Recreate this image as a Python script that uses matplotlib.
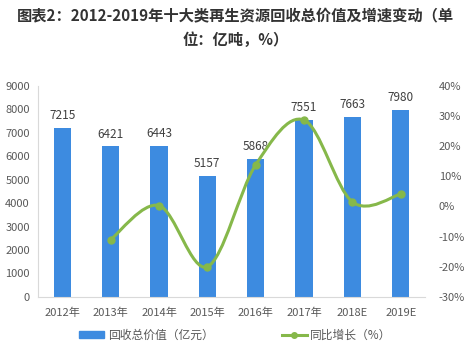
import matplotlib.pyplot as plt
from matplotlib.path import Path
from matplotlib.patches import PathPatch
from matplotlib.lines import Line2D
from matplotlib.patches import Patch
import numpy as np

plt.rcParams['font.family'] = ['Noto Sans CJK SC', 'DejaVu Sans']

# data
years = ['2012年', '2013年', '2014年', '2015年', '2016年', '2017年', '2018E', '2019E']
value = [7215, 6421, 6443, 5157, 5868, 7551, 7663, 7980]
growth = [-11.0, 0.3, -20.0, 13.8, 28.7, 1.5, 4.1]   # from 2013 on

blue = '#3D8BE0'
green = '#86B84A'
grey = '#595959'

fig = plt.figure(figsize=(4.71, 3.48), dpi=100)
ax = fig.add_axes([0.081, 0.147, 0.821, 0.606])
x = np.arange(len(years))

ax.bar(x, value, width=0.36, color=blue, zorder=2)
for xi, v in zip(x, value):
    ax.text(xi, v + 250, str(v), ha='center', va='bottom', fontsize=8.5, color='#404040')

ax.set_xlim(-0.5, len(years) - 0.5)
ax.set_ylim(0, 9000)
ax.set_yticks(np.arange(0, 9001, 1000))
ax.set_xticks(x)
ax.set_xticklabels(years)
ax.tick_params(axis='both', length=0, labelsize=8, colors=grey)
ax.tick_params(axis='y', pad=6)
ax.tick_params(axis='x', pad=8)
for s in ['top', 'right']:
    ax.spines[s].set_visible(False)
for s in ['left', 'bottom']:
    ax.spines[s].set_color('#D9D9D9')

ax2 = ax.twinx()
ax2.set_ylim(-30, 40)
ax2.set_yticks(np.arange(-30, 41, 10))
ax2.set_yticklabels([f'{t}%' for t in range(-30, 41, 10)])
ax2.tick_params(axis='y', length=0, labelsize=8, colors=grey, pad=10)
for s in ax2.spines.values():
    s.set_visible(False)

# smoothed line drawn as cubic bezier segments (Excel style)
gx = x[1:].astype(float)
gy = np.array(growth, dtype=float)
pts = list(zip(gx, gy))
verts = [pts[0]]
codes = [Path.MOVETO]
n = len(pts)
for i in range(n - 1):
    p0 = np.array(pts[i - 1] if i > 0 else pts[i])
    p1 = np.array(pts[i])
    p2 = np.array(pts[i + 1])
    p3 = np.array(pts[i + 2] if i + 2 < n else pts[i + 1])
    c1 = p1 + (p2 - p0) / 6
    c2 = p2 - (p3 - p1) / 6
    verts += [tuple(c1), tuple(c2), tuple(p2)]
    codes += [Path.CURVE4] * 3
ax2.add_patch(PathPatch(Path(verts, codes), facecolor='none', edgecolor=green, lw=2.2, zorder=3))
ax2.plot(gx, gy, 'o', color=green, ms=5, zorder=4)

fig.text(0.5, 0.975, '图表2：2012-2019年十大类再生资源回收总价值及增速变动（单\n位：亿吨，%）',
         ha='center', va='top', fontsize=11, fontweight='bold', color='#333333', linespacing=1.55)

handles = [Patch(color=blue), Line2D([], [], color=green, lw=2.2, marker='o', ms=4)]
labels = ['回收总价值（亿元）', '同比增长（%）']
fig.legend(handles, labels, loc='center', bbox_to_anchor=(0.5, 0.037), ncol=2, frameon=False,
           fontsize=8.5, labelcolor=grey, columnspacing=5.8, handlelength=2.1,
           handleheight=0.5, handletextpad=0.3)

fig.savefig('out.png', dpi=100)
